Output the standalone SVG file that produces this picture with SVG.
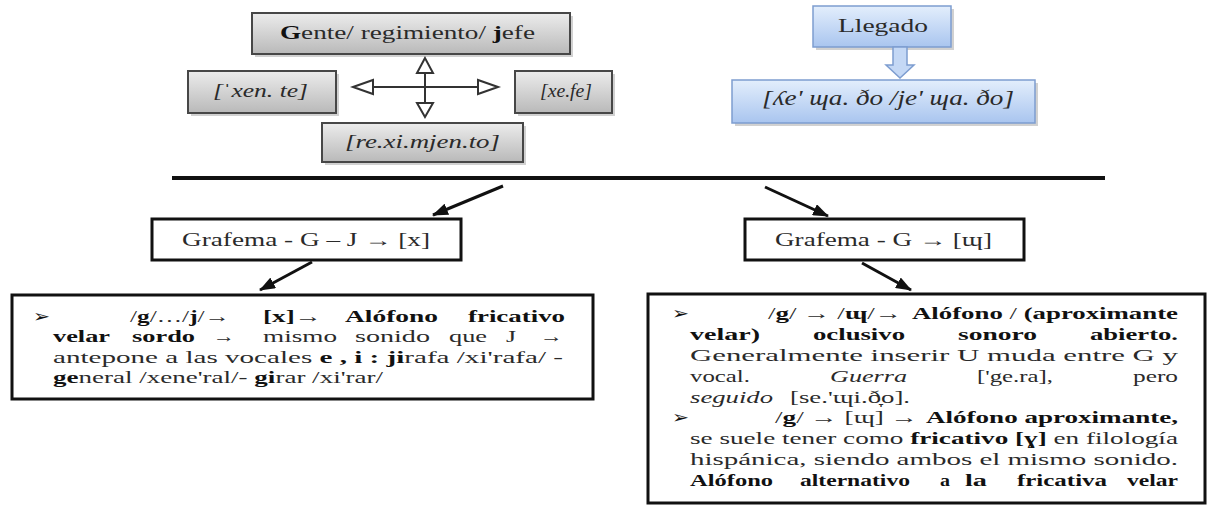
<svg xmlns="http://www.w3.org/2000/svg" width="1208" height="505" viewBox="0 0 1208 505" font-family="'Liberation Serif','DejaVu Serif',serif">
<style>
text{font-family:"Liberation Serif","DejaVu Serif",serif;fill:#2a2a2a;}
.b{font-weight:bold;fill:#111;}
.i{font-style:italic;}
.body{font-size:17px;}
.sym{font-family:"DejaVu Sans",sans-serif;font-size:17px;fill:#111;}
.gray{fill:url(#gg);stroke:#474747;stroke-width:2;}
.shadow{fill:#000;opacity:0.18;}
.blue{fill:url(#bg);stroke:#7d9dd0;stroke-width:1.5;}
.frame{fill:#fff;stroke:#111;stroke-width:3;}
.conn{stroke:#111;stroke-width:3;fill:none;marker-end:url(#ah);}
.cross{stroke:#333;stroke-width:2;fill:none;}
.tri{fill:#fff;stroke:#333;stroke-width:2;stroke-linejoin:miter;}
</style>
<defs>
<linearGradient id="gg" x1="0" y1="0" x2="0" y2="1">
<stop offset="0" stop-color="#ececec"/>
<stop offset="1" stop-color="#b9b9b9"/>
</linearGradient>
<linearGradient id="bg" x1="0" y1="0" x2="0" y2="1">
<stop offset="0" stop-color="#e3eefc"/>
<stop offset="1" stop-color="#a9c5ef"/>
</linearGradient>
<marker id="ah" markerUnits="userSpaceOnUse" markerWidth="16" markerHeight="12" refX="15" refY="6" orient="auto">
<path d="M0,0 L16,6 L0,12 Z" fill="#111"/>
</marker>
</defs>

<g id="gente">
<rect class="shadow" x="255" y="16" width="318" height="41"/>
<rect class="gray" x="252" y="13" width="318" height="41"/>
<text x="280" y="39" font-size="19" textLength="255" lengthAdjust="spacingAndGlyphs"><tspan class="b">G</tspan>ente/ regimiento/ <tspan class="b">j</tspan>efe</text>
</g>

<g id="xente">
<rect class="shadow" x="191" y="74" width="148" height="42"/>
<rect class="gray" x="188" y="71" width="148" height="42"/>
<text class="i" x="213" y="97" font-size="19" textLength="95" lengthAdjust="spacingAndGlyphs">[ˈxen. te]</text>
</g>

<g id="xefe">
<rect class="shadow" x="518" y="74" width="97" height="42"/>
<rect class="gray" x="515" y="71" width="97" height="42"/>
<text class="i" x="540" y="97" font-size="19" textLength="52" lengthAdjust="spacingAndGlyphs">[xe.fe]</text>
</g>

<g id="rexi">
<rect class="shadow" x="325" y="126" width="201" height="39"/>
<rect class="gray" x="322" y="123" width="201" height="39"/>
<text class="i" x="345" y="148" font-size="19" textLength="155" lengthAdjust="spacingAndGlyphs">[re.xi.mjen.to]</text>
</g>

<g id="cross">
<line class="cross" x1="360" y1="87" x2="491" y2="87"/>
<line class="cross" x1="425" y1="64" x2="425" y2="111"/>
<polygon class="tri" points="353,87 373,80 373,94"/>
<polygon class="tri" points="498,87 478,80 478,94"/>
<polygon class="tri" points="425,58 417,73 433,73"/>
<polygon class="tri" points="425,117 417,103 433,103"/>
</g>

<g id="llegado">
<rect class="shadow" x="816" y="9" width="138" height="41"/>
<rect class="blue" x="813" y="6" width="138" height="41"/>
<text x="838" y="32" font-size="19" textLength="90" lengthAdjust="spacingAndGlyphs">Llegado</text>
</g>

<g id="blockarrow">
<polygon points="893,47 907,47 907,65 914,65 900,78 886,65 893,65" fill="#c4d8f5" stroke="#7d9dd0" stroke-width="1.5"/>
</g>

<g id="ipa">
<rect class="shadow" x="735" y="83" width="303" height="43"/>
<rect class="blue" x="732" y="80" width="303" height="43"/>
<text class="i" x="762" y="105" font-size="21" textLength="252" lengthAdjust="spacingAndGlyphs">[ʎe' ɰa. ðo /je' ɰa. ðo]</text>
</g>

<g id="divider">
<line x1="172" y1="178" x2="1105" y2="178" stroke="#111" stroke-width="4"/>
</g>

<g id="grafema-gj">
<rect class="frame" x="152" y="219" width="309" height="41"/>
<text x="182" y="246" font-size="18" textLength="248" lengthAdjust="spacingAndGlyphs" fill="#444">Grafema - G – J → [x]</text>
</g>

<g id="grafema-g">
<rect class="frame" x="745" y="219" width="279" height="41"/>
<text x="775" y="246" font-size="18" textLength="217" lengthAdjust="spacingAndGlyphs" fill="#444">Grafema - G → [ɰ]</text>
</g>

<g id="connectors">
<line class="conn" x1="503" y1="186" x2="433" y2="215"/>
<line class="conn" x1="312" y1="262" x2="260" y2="290"/>
<line class="conn" x1="765" y1="187" x2="828" y2="216"/>
<line class="conn" x1="862" y1="263" x2="911" y2="290"/>
</g>

<g id="box-x">
<rect class="frame" x="12" y="295" width="581" height="104"/>
<text class="sym" x="33" y="322" textLength="17" lengthAdjust="spacingAndGlyphs">➢</text>
<text class="body" x="130" y="322" textLength="100" lengthAdjust="spacingAndGlyphs">/<tspan class="b">g</tspan>/…/<tspan class="b">j</tspan>/→</text>
<text class="body" x="263" y="322" textLength="59" lengthAdjust="spacingAndGlyphs"><tspan class="b">[x]</tspan>→</text>
<text class="body b" x="345" y="322" textLength="93" lengthAdjust="spacingAndGlyphs">Alófono</text>
<text class="body b" x="468" y="322" textLength="97" lengthAdjust="spacingAndGlyphs">fricativo</text>

<text class="body b" x="53" y="342" textLength="57" lengthAdjust="spacingAndGlyphs">velar</text>
<text class="body b" x="132" y="342" textLength="63" lengthAdjust="spacingAndGlyphs">sordo</text>
<text class="body" x="213" y="342" textLength="22" lengthAdjust="spacingAndGlyphs">→</text>
<text class="body" x="263" y="342" textLength="74" lengthAdjust="spacingAndGlyphs">mismo</text>
<text class="body" x="355" y="342" textLength="75" lengthAdjust="spacingAndGlyphs">sonido</text>
<text class="body" x="449" y="342" textLength="38" lengthAdjust="spacingAndGlyphs">que</text>
<text class="body" x="506" y="342" textLength="10" lengthAdjust="spacingAndGlyphs">J</text>
<text class="body" x="540" y="342" textLength="23" lengthAdjust="spacingAndGlyphs">→</text>

<text class="body" x="53" y="363" textLength="510" lengthAdjust="spacingAndGlyphs">antepone a las vocales <tspan class="b">e , i :</tspan> <tspan class="b">ji</tspan>rafa /xi'rafa/ -</text>
<text class="body" x="53" y="383" textLength="330" lengthAdjust="spacingAndGlyphs"><tspan class="b">ge</tspan>neral /xene'ral/- <tspan class="b">gi</tspan>rar /xi'rar/</text>
</g>

<g id="box-g">
<rect class="frame" x="648" y="294" width="557" height="209"/>
<text class="sym" x="672" y="319" textLength="17" lengthAdjust="spacingAndGlyphs">➢</text>
<text class="body" x="768" y="319" textLength="134" lengthAdjust="spacingAndGlyphs">/<tspan class="b">g</tspan>/ → /<tspan class="b">ɰ</tspan>/→</text>
<text class="body" x="912" y="319" textLength="266" lengthAdjust="spacingAndGlyphs"><tspan class="b">Alófono</tspan> / <tspan class="b">(aproximante</tspan></text>

<text class="body b" x="690" y="340" textLength="70" lengthAdjust="spacingAndGlyphs">velar)</text>
<text class="body b" x="813" y="340" textLength="92" lengthAdjust="spacingAndGlyphs">oclusivo</text>
<text class="body b" x="958" y="340" textLength="79" lengthAdjust="spacingAndGlyphs">sonoro</text>
<text class="body b" x="1090" y="340" textLength="88" lengthAdjust="spacingAndGlyphs">abierto.</text>

<text class="body" x="690" y="361" textLength="488" lengthAdjust="spacingAndGlyphs">Generalmente inserir U muda entre G y</text>

<text class="body" x="690" y="382" textLength="60" lengthAdjust="spacingAndGlyphs">vocal.</text>
<text class="body i" x="830" y="382" textLength="77" lengthAdjust="spacingAndGlyphs">Guerra</text>
<text class="body" x="977" y="382" textLength="76" lengthAdjust="spacingAndGlyphs">['ge.ra],</text>
<text class="body" x="1133" y="382" textLength="45" lengthAdjust="spacingAndGlyphs">pero</text>

<text class="body i" x="690" y="403" textLength="83" lengthAdjust="spacingAndGlyphs">seguido</text>
<text class="body" x="790" y="403" textLength="120" lengthAdjust="spacingAndGlyphs">[se.'ɰi.ð̞o].</text>

<text class="sym" x="672" y="423" textLength="17" lengthAdjust="spacingAndGlyphs">➢</text>
<text class="body" x="775" y="423" textLength="143" lengthAdjust="spacingAndGlyphs">/<tspan class="b">g</tspan>/ → [ɰ] →</text>
<text class="body b" x="926" y="423" textLength="252" lengthAdjust="spacingAndGlyphs">Alófono aproximante,</text>

<text class="body" x="690" y="444" textLength="488" lengthAdjust="spacingAndGlyphs">se suele tener como <tspan class="b">fricativo [ɣ]</tspan> en filología</text>
<text class="body" x="690" y="465" textLength="488" lengthAdjust="spacingAndGlyphs">hispánica, siendo ambos el mismo sonido.</text>

<text class="body b" x="690" y="486" textLength="83" lengthAdjust="spacingAndGlyphs">Alófono</text>
<text class="body b" x="800" y="486" textLength="110" lengthAdjust="spacingAndGlyphs">alternativo</text>
<text class="body b" x="940" y="486" textLength="10" lengthAdjust="spacingAndGlyphs">a</text>
<text class="body b" x="965" y="486" textLength="22" lengthAdjust="spacingAndGlyphs">la</text>
<text class="body b" x="1017" y="486" textLength="90" lengthAdjust="spacingAndGlyphs">fricativa</text>
<text class="body b" x="1127" y="486" textLength="51" lengthAdjust="spacingAndGlyphs">velar</text>
</g>
</svg>
